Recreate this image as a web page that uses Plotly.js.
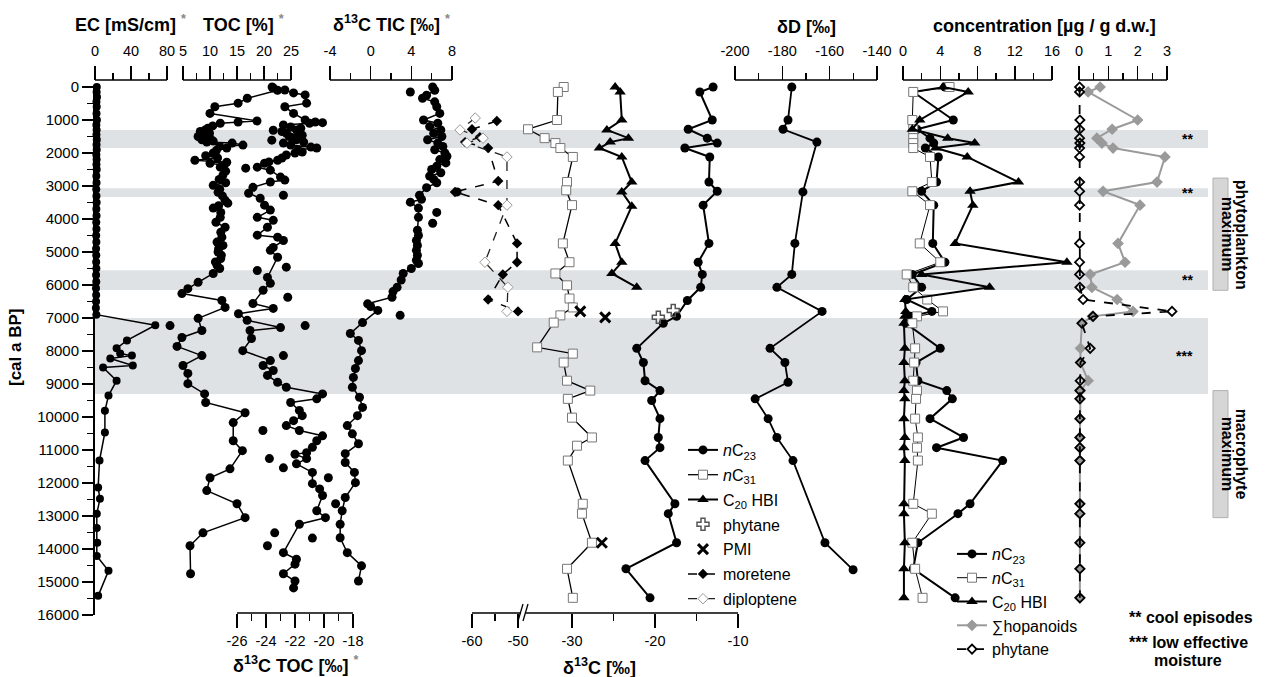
<!DOCTYPE html>
<html><head><meta charset="utf-8">
<script src="https://cdn.plot.ly/plotly-3.0.1.min.js"></script>
<style>html,body{margin:0;padding:0;background:#fff}#chart{width:1265px;height:677px}</style>
</head><body><div id="chart"></div>
<script>
// ---------------- DATA (ages in cal a BP) ----------------
const EC_age = [0,150,300,450,600,800,1000,1150,1300,1450,1600,1750,1900,2050,2200,2350,2500,2700,2900,3100,3300,3500,3700,3900,4100,4300,4500,4700,4900,5100,5300,5500,5700,5900,6100,6300,6500,6700,6900,7220,7680,7920,8075,8140,8230,8440,8500,8900,9350,9810,10470,11320,12140,12480,12930,13360,13810,14210,14660,15420];
const EC_val = [2.0,1.8,2.2,1.6,1.9,1.7,2.1,1.5,1.8,1.6,2.0,1.7,1.9,1.5,1.8,1.6,1.9,1.5,1.7,1.4,1.6,1.8,1.5,1.7,1.4,1.6,1.3,1.5,1.2,1.4,1.3,1.5,1.2,1.4,1.1,1.3,1.2,1.0,1.5,67,35.5,24,28,41,17,42,9,24,15,11,11,5,3.5,5.5,2,2,2.5,2,15,3.5];

const TOC_age = [0,100,340,490,600,800,1030,1060,1100,1180,1250,1300,1350,1400,1460,1500,1550,1600,1640,1670,1700,1760,1800,1850,1920,2000,2080,2150,2220,2280,2310,2370,2430,2550,2670,2800,2900,2980,3100,3190,3300,3430,3520,3600,3670,3800,3950,4100,4250,4400,4550,4700,4800,4900,5000,5100,5200,5300,5400,5500,5650,5920,6110,6260,6470,6680,7010,7380,7590,7860,8140,8440,8680,8990,9300,9560,9870,10170,10720,11020,11570,11840,12230,12630,13050,13510,13900,14750];
const TOC_val = [21.5,22.5,16.9,15.2,10.9,10.0,18.7,15.2,11.9,10.5,9.6,9.1,8.2,9.9,8.7,7.8,10.0,8.5,10.6,9.4,14.1,16.1,11.8,13.1,11.2,10.6,9.2,11.4,7.2,13.1,10.0,12.6,11.9,12.9,12.4,11.7,12.9,10.6,11.8,11.5,12.3,12.8,13.3,11.6,10.6,12.0,11.9,11.1,12.8,12.0,12.2,11.3,12.4,11.6,11.5,12.1,12.0,11.0,11.3,11.8,10.6,7.8,5.9,4.8,12.2,12.8,7.8,8.5,4.8,3.9,8.5,5.0,5.9,5.9,9.0,9.2,16.5,14.3,14.3,16.0,13.7,10.0,9.4,15.0,16.5,8.7,6.3,6.4];
const TOC_out_age = [7230,10410,11260];
const TOC_out_val = [2.6,19.8,21.0];

const D13TOC_age = [30,90,180,240,490,600,800,1000,1060,1100,1150,1210,1250,1300,1350,1400,1460,1500,1550,1600,1670,1700,1760,1820,1850,1900,1970,2000,2060,2150,2220,2270,2310,2430,2520,2730,2820,2880,3040,3220,3370,3580,3730,3950,4040,4250,4490,4550,4650,4860,4950,5160,5770,5950,6160,6560,6710,6870,7070,7290,7380,7620,7990,8290,8440,8590,8740,8950,9100,9300,9450,9560,9800,9960,10110,10260,10410,10570,10720,10920,11080,11130,11260,11420,11680,12020,12180,12380,12840,13050,13250,14110,14310,14460,14750,14970,15180];
const D13TOC_val = [-23.5,-22.7,-22.1,-21.3,-21.2,-22.7,-22.1,-21.3,-20.6,-21.0,-22.8,-22.3,-21.6,-21.9,-22.9,-22.6,-21.5,-22.4,-22.1,-21.9,-21.4,-22.8,-22.3,-20.9,-20.5,-21.8,-21.5,-22.0,-22.6,-22.9,-23.2,-23.8,-24.1,-24.6,-23.7,-23.0,-22.7,-23.7,-24.9,-25.2,-24.4,-24.1,-23.7,-24.6,-23.5,-23.9,-24.6,-23.2,-22.8,-23.5,-23.7,-23.2,-23.9,-23.7,-24.2,-24.9,-23.5,-25.9,-25.3,-23.0,-25.1,-25.0,-25.6,-23.7,-24.2,-23.5,-23.9,-23.2,-22.6,-20.1,-20.5,-22.3,-21.7,-21.5,-22.1,-22.6,-21.7,-20.1,-20.5,-20.8,-21.2,-22.0,-21.2,-21.9,-20.8,-20.8,-20.3,-20.1,-20.5,-19.9,-21.7,-22.8,-21.9,-22.0,-22.8,-22.0,-22.1];
const D13TOC_out_age = [1080,1310,1610,2460,3280,5460,5560,6370,7230,8140,11540,11840,12630,13510,13670,13900];
const D13TOC_out_val = [-20.1,-23.5,-23.6,-25.4,-22.8,-22.6,-24.6,-22.5,-21.3,-22.8,-22.8,-19.7,-19.2,-23.4,-20.8,-23.9];

const TIC_age = [0,100,250,340,450,600,800,1000,1100,1200,1300,1400,1500,1600,1700,1800,1900,2000,2100,2200,2300,2400,2500,2600,2700,2800,2900,3050,3280,3400,3490,3670,3950,4340,4500,4650,4800,4950,5100,5250,5350,5500,5650,5850,6070,6200,6370,6570,6650,6770,7140,7470,7680,7990,8290,8530,8800,9100,9400,9710,9960,10260,10510,10810,11110,11380,11680,11990,12440,12840,13250,13660,14110,14510,14970];
const TIC_val = [6.1,6.3,5.5,5.1,6.3,6.5,6.8,5.2,6.6,5.8,6.9,6.2,7.0,5.6,6.6,7.1,6.3,7.3,7.5,6.8,7.4,6.5,6.0,6.9,5.8,6.2,6.5,5.5,4.8,5.0,3.9,4.7,4.7,4.6,4.7,4.5,4.6,4.5,4.6,4.5,4.7,4.0,3.2,3.0,2.6,2.2,2.1,-0.3,0.0,0.7,-0.8,-2.0,-1.2,-0.9,-1.2,-1.5,-1.7,-1.8,-1.1,-0.8,-1.3,-2.3,-1.8,-1.2,-2.5,-2.5,-1.6,-1.5,-2.5,-2.8,-3.0,-3.0,-2.3,-0.9,-1.2];
const TIC_out_age = [150,3180,3800,4130,6920];
const TIC_out_val = [3.9,8.5,6.5,6.1,2.9];

// compound-specific d13C [permil]
const d13_C23_age = [0,150,1000,1280,1550,1700,1850,2120,2880,3160,3580,4740,5310,5680,6070,6470,6950,7160,7920,8350,8900,9200,9500,10050,10620,10930,11320,12630,12930,13810,14600,15480];
const d13_C23_val = [-13.0,-14.6,-13.1,-16.0,-13.7,-12.5,-16.4,-13.4,-13.5,-12.5,-14.2,-13.5,-14.8,-14.3,-14.5,-16.1,-17.4,-19.0,-22.2,-21.4,-21.2,-19.4,-20.4,-19.4,-19.6,-19.4,-21.2,-17.6,-18.4,-17.4,-23.5,-20.6];
const d13_C31_age = [0,150,1000,1280,1550,1700,1850,2120,2880,3130,3580,4740,5310,5650,6010,6410,6680,6920,7140,7890,8080,8350,8900,9200,9450,10020,10620,10870,11320,12630,12930,13810,14600,15480];
const d13_C31_val = [-31.0,-31.7,-31.8,-35.3,-33.3,-32.0,-31.4,-29.9,-30.6,-30.7,-30.0,-31.1,-30.3,-32.0,-30.6,-30.3,-29.9,-31.4,-32.2,-34.2,-29.9,-31.0,-30.6,-27.8,-30.5,-30.0,-27.6,-29.4,-30.5,-28.7,-28.8,-27.6,-30.6,-29.9];
const d13_HBI_age = [0,150,1000,1300,1550,1670,1850,2120,2880,3180,3610,4740,5310,5650,6070];
const d13_HBI_val = [-24.8,-24.2,-24.0,-25.8,-23.2,-25.4,-26.7,-24.0,-22.8,-24.0,-22.8,-24.8,-24.0,-25.2,-22.2];
const d13_PHY_age = [6770,6980];
const d13_PHY_val = [-17.8,-19.6];
const d13_PMI_age = [6800,6980,13810];
const d13_PMI_val = [-29.0,-26.0,-26.4];
const d13_MOR_age = [1030,1280,1520,1670,1850,2850,3180,3580,4740,5310,5680,6440,6800];
const d13_MOR_val = [-54.6,-60.0,-58.3,-61.5,-56.5,-54.3,-63.7,-54.3,-50.2,-50.2,-53.3,-56.5,-50.0];
const d13_DIP_age = [940,1300,1550,1700,2120,3580,5310,6070,6800];
const d13_DIP_val = [-59.3,-62.6,-57.6,-61.1,-52.4,-52.4,-57.2,-52.2,-52.4];

// dD of nC23 [permil]
const dD_age = [0,1000,1280,1670,3180,4740,5680,6070,6800,7920,8350,8950,9450,10050,10620,11320,13810,14630];
const dD_val = [-176.0,-177.6,-179.7,-165.4,-171.3,-174.7,-176.0,-182.3,-163.2,-185.2,-178.9,-177.6,-191.5,-186.0,-182.3,-175.5,-162.0,-150.1];

// concentrations [ug / g d.w.]
const conc_age = [0,150,1000,1280,1550,1700,1850,2120,2880,3160,3580,4740,5310,5680,6070,6440,6800,6950,7160,7920,8350,8900,9200,9450,10050,10620,10930,11320,12630,12930,13810,14600,15480];
const conc_C23 = [4.5,1.1,5.4,1.5,2.9,3.3,2.4,3.8,3.6,2.0,3.3,3.2,4.5,1.0,2.0,0.4,3.1,0.8,0.3,4.0,1.4,1.6,4.7,5.3,2.9,6.5,3.6,10.7,7.2,5.9,1.6,1.1,5.6];
const conc_C31 = [5.0,1.1,1.0,1.1,1.1,1.1,1.1,2.9,3.1,1.0,2.9,1.8,4.0,0.4,1.1,2.6,4.3,1.5,1.0,1.3,1.2,1.1,1.5,1.4,1.3,1.6,1.5,1.6,1.1,3.1,1.0,1.3,2.1];
const conc_HBI = [4.3,7.0,1.8,1.0,4.8,7.7,3.5,6.9,12.4,7.2,7.5,5.6,17.6,2.0,9.3,0.2,0.3,0.2,0.1,0.2,0.1,0.2,0.1,0.2,0.1,0.2,0.1,0.2,0.1,0.1,0.2,0.1,0.1];
const conc_HOP = [0.72,0.31,2.0,1.13,0.61,0.78,1.16,2.93,2.66,0.82,2.08,1.33,1.57,0.38,0.44,1.3,1.84,0.45,0.1,0.05,0.05,0.31,0.05,0.04,0.04,0.03,0.04,0.03,0.03,0.03,0.03,0.03,0.03];
const conc_PHY = [0.02,0.02,0.03,0.02,0.02,0.03,0.02,0.02,0.02,0.02,0.02,0.02,0.02,0.02,0.03,0.14,3.17,0.48,0.1,0.38,0.05,0.04,0.03,0.03,0.03,0.03,0.03,0.03,0.03,0.03,0.03,0.03,0.03];

// shaded episodes and labelled periods
const band_from = [1300,3070,5550,7000];
const band_to   = [1850,3330,6150,9300];
const band_mark = ['**','**','**','***'];
const period_from = [2760,9200];
const period_to   = [6160,13050];
const period_l1 = ['phytoplankton','macrophyte'];
const period_l2 = ['maximum','maximum'];

const yTicks = [0,1000,2000,3000,4000,5000,6000,7000,8000,9000,10000,11000,12000,13000,14000,15000,16000];
const yMinor = [500,1500,2500,3500,4500,5500,6500,7500,8500,9500,10500,11500,12500,13500,14500,15500];

// ---------------- LAYOUT HELPERS ----------------
const W = 1265, H = 677;
const FONT = 'Liberation Sans, Arial, Helvetica, sans-serif';
const PX = x => x / W;
const PY = y => (H - y) / H;
function mapRange(d0, d1, v0, p0, v1, p1) {
  const s = (p1 - p0) / (v1 - v0);
  return [v0 + (d0 - p0) / s, v0 + (d1 - p0) / s];
}
const shapes = [];
function xAxis(dom, v0, p0, v1, p1, side, ypx, major, minor) {
  return {
    domain: [PX(dom[0]), PX(dom[1])],
    range: mapRange(dom[0], dom[1], v0, p0, v1, p1),
    anchor: 'free', position: PY(ypx), side: side,
    showline: false, showgrid: false, zeroline: false, fixedrange: true,
    tickmode: 'array', tickvals: major, ticktext: major.map(v => String(v)),
    ticks: 'outside', ticklen: 14, tickwidth: 1.5, tickcolor: '#000',
    ticklabelstandoff: side === 'top' ? 4 : 1,
    minor: {tickmode: 'array', tickvals: minor, ticks: 'outside', ticklen: 7, tickwidth: 1.5, tickcolor: '#000', showgrid: false},
    tickfont: {family: FONT, size: 14.5, color: '#000'}
  };
}
const axes = {
  xaxis:  xAxis([86,178], 0,95,80,167, 'top', 80, [0,40,80], [20,60]),
  xaxis2: xAxis([160,300], 5,183,25,291, 'top', 80, [5,10,15,20,25], [7.5,12.5,17.5,22.5]),
  xaxis3: xAxis([226,364], -26,237,-18,353, 'bottom', 613, [-26,-24,-22,-20,-18], [-25,-23,-21,-19]),
  xaxis4: xAxis([322,470], -4,330,8,452, 'top', 80, [-4,0,4,8], [-2,2,6]),
  xaxis5: xAxis([438,524], -60,472,-50,518, 'bottom', 613, [-60,-50], [-55]),
  xaxis6: xAxis([524,762], -30,572,-10,738, 'bottom', 613, [-30,-20,-10], [-25,-15]),
  xaxis7: xAxis([726,886], -200,735,-140,877, 'top', 80, [-200,-180,-160,-140], [-190,-170,-150]),
  xaxis8: xAxis([895,1074], 0,903,16,1052, 'top', 80, [0,4,8,12,16], [2,6,10,14]),
  xaxis9: xAxis([1072,1182], 0,1079,3,1167, 'top', 80, [0,1,2,3], [0.5,1.5,2.5])
};
// axis lines
function axLine(ref, v0, v1, ypx) {
  shapes.push({type: 'line', xref: ref, yref: 'paper', x0: v0, x1: v1, y0: PY(ypx), y1: PY(ypx), line: {color: '#000', width: 1.5}});
}
axLine('x', 0, 80, 80); axLine('x2', 5, 25, 80); axLine('x3', -26, -18, 613); axLine('x4', -4, 8, 80);
axLine('x7', -200, -140, 80); axLine('x8', 0, 16, 80); axLine('x9', 0, 3, 80);
// broken d13C axis: left and right pieces plus break mark
shapes.push({type: 'line', xref: 'paper', yref: 'paper', x0: PX(472), x1: PX(521), y0: PY(613), y1: PY(613), line: {color: '#000', width: 1.5}});
shapes.push({type: 'line', xref: 'paper', yref: 'paper', x0: PX(526), x1: PX(738), y0: PY(613), y1: PY(613), line: {color: '#000', width: 1.5}});
shapes.push({type: 'line', xref: 'paper', yref: 'paper', x0: PX(518), x1: PX(523), y0: PY(621), y1: PY(604), line: {color: '#000', width: 1.3}});
shapes.push({type: 'line', xref: 'paper', yref: 'paper', x0: PX(523), x1: PX(528), y0: PY(621), y1: PY(604), line: {color: '#000', width: 1.3}});
// shaded bands
band_from.forEach((b, i) => {
  shapes.push({type: 'rect', layer: 'below', xref: 'paper', yref: 'y', x0: PX(95), x1: PX(1208), y0: b, y1: band_to[i], fillcolor: '#dfe2e5', line: {width: 0}});
});
// period boxes
period_from.forEach((b, i) => {
  shapes.push({type: 'rect', layer: 'below', xref: 'paper', yref: 'y', x0: PX(1213), x1: PX(1228), y0: b, y1: period_to[i], fillcolor: '#d6d6d6', line: {color: '#b0b0b0', width: 1}});
});

// ---------------- TRACES ----------------
const traces = [];
function tr(o) { traces.push(Object.assign({type: 'scatter', yaxis: 'y', showlegend: false, cliponaxis: false}, o)); }
const blackDot = s => ({symbol: 'circle', size: s, color: '#000'});

tr({x: EC_val, y: EC_age, xaxis: 'x', mode: 'lines+markers', line: {color: '#000', width: 1.5}, marker: blackDot(8)});
tr({x: TOC_val, y: TOC_age, xaxis: 'x2', mode: 'lines+markers', line: {color: '#000', width: 1.5}, marker: blackDot(9)});
tr({x: TOC_out_val, y: TOC_out_age, xaxis: 'x2', mode: 'markers', marker: blackDot(9)});
tr({x: D13TOC_val, y: D13TOC_age, xaxis: 'x3', mode: 'lines+markers', line: {color: '#000', width: 1.5}, marker: blackDot(9)});
tr({x: D13TOC_out_val, y: D13TOC_out_age, xaxis: 'x3', mode: 'markers', marker: blackDot(9)});
tr({x: TIC_val, y: TIC_age, xaxis: 'x4', mode: 'lines+markers', line: {color: '#000', width: 1.5}, marker: blackDot(9)});
tr({x: TIC_out_val, y: TIC_out_age, xaxis: 'x4', mode: 'markers', marker: blackDot(9)});

// d13C panel (legend 1)
const L1 = {legend: 'legend', showlegend: true};
tr(Object.assign({name: '<i>n</i>C<sub>23</sub>', legendgroup: 'a1', x: d13_C23_val, y: d13_C23_age, xaxis: 'x6', mode: 'lines+markers', line: {color: '#000', width: 2}, marker: blackDot(9)}, L1));
tr(Object.assign({name: '<i>n</i>C<sub>31</sub>', legendgroup: 'a2', x: d13_C31_val, y: d13_C31_age, xaxis: 'x6', mode: 'lines+markers', line: {color: '#000', width: 1.3}, marker: {symbol: 'square', size: 9, color: '#fff', line: {color: '#777', width: 1}}}, L1));
tr(Object.assign({name: 'C<sub>20</sub> HBI', legendgroup: 'a3', x: d13_HBI_val, y: d13_HBI_age, xaxis: 'x6', mode: 'lines+markers', line: {color: '#000', width: 2}, marker: {symbol: 'triangle-up', size: 10, color: '#000'}}, L1));
tr(Object.assign({name: 'phytane', legendgroup: 'a4', x: d13_PHY_val, y: d13_PHY_age, xaxis: 'x6', mode: 'markers', marker: {symbol: 'cross-open', size: 10, color: '#555', line: {width: 1.5}}}, L1));
tr(Object.assign({name: 'PMI', legendgroup: 'a5', x: d13_PMI_val, y: d13_PMI_age, xaxis: 'x6', mode: 'markers', marker: {symbol: 'x-thin-open', size: 10, color: '#000', line: {width: 3}}}, L1));
tr(Object.assign({name: 'moretene', legendgroup: 'a6', x: d13_MOR_val, y: d13_MOR_age, xaxis: 'x5', mode: 'lines+markers', line: {color: '#000', width: 1.5, dash: 'dash'}, marker: {symbol: 'diamond', size: 8, color: '#000'}}, L1));
tr(Object.assign({name: 'diploptene', legendgroup: 'a7', x: d13_DIP_val, y: d13_DIP_age, xaxis: 'x5', mode: 'lines+markers', line: {color: '#222', width: 1.3, dash: 'dash'}, marker: {symbol: 'diamond', size: 8, color: '#fff', line: {color: '#999', width: 1}}}, L1));

// dD
tr({x: dD_val, y: dD_age, xaxis: 'x7', mode: 'lines+markers', line: {color: '#000', width: 1.8}, marker: blackDot(9)});

// concentrations (legend 2)
const L2 = {legend: 'legend2', showlegend: true};
tr(Object.assign({name: '<i>n</i>C<sub>23</sub>', legendgroup: 'b1', x: conc_C23, y: conc_age, xaxis: 'x8', mode: 'lines+markers', line: {color: '#000', width: 2}, marker: blackDot(9)}, L2));
tr(Object.assign({name: '<i>n</i>C<sub>31</sub>', legendgroup: 'b2', x: conc_C31, y: conc_age, xaxis: 'x8', mode: 'lines+markers', line: {color: '#000', width: 1}, marker: {symbol: 'square', size: 9, color: '#fff', line: {color: '#777', width: 1}}}, L2));
tr(Object.assign({name: 'C<sub>20</sub> HBI', legendgroup: 'b3', x: conc_HBI, y: conc_age, xaxis: 'x8', mode: 'lines+markers', line: {color: '#000', width: 2}, marker: {symbol: 'triangle-up', size: 10, color: '#000'}}, L2));
tr(Object.assign({name: '∑hopanoids', legendgroup: 'b4', x: conc_HOP, y: conc_age, xaxis: 'x9', mode: 'lines+markers', line: {color: '#9a9a9a', width: 2}, marker: {symbol: 'diamond', size: 9, color: '#9a9a9a'}}, L2));
tr(Object.assign({name: 'phytane', legendgroup: 'b5', x: conc_PHY, y: conc_age, xaxis: 'x9', mode: 'lines+markers', line: {color: '#000', width: 1.8, dash: 'dash'}, marker: {symbol: 'diamond-open', size: 7, color: '#000', line: {width: 1.8}}}, L2));

// ---------------- ANNOTATIONS ----------------
const ann = [];
function txt(text, xpx, ypx, size, bold, extra) {
  ann.push(Object.assign({text: bold ? '<b>' + text + '</b>' : text, xref: 'paper', yref: 'paper', x: PX(xpx), y: PY(ypx), showarrow: false,
    xanchor: 'center', yanchor: 'middle', font: {family: FONT, size: size, color: '#000'}}, extra || {}));
}
const star = ' <span style="color:#888"><sup>*</sup></span>';
txt('EC [mS/cm]' + star, 130, 23, 18, true);
txt('TOC [%]' + star, 243, 23, 18, true);
txt('δ<sup>13</sup>C TIC [‰]' + star, 391, 23, 18, true);
txt('δD [‰]', 806, 27, 18, true);
txt('concentration [µg / g d.w.]', 1044, 26, 18, true);
txt('δ<sup>13</sup>C TOC [‰]' + star, 296, 664, 18, true);
txt('δ<sup>13</sup>C [‰]', 599, 666, 18, true);
txt('[cal a BP]', 15, 348, 17, true, {textangle: -90});
band_from.forEach((b, i) => {
  ann.push({text: '<b>' + band_mark[i] + '</b>', xref: 'paper', yref: 'y', x: PX(1195), y: (b + band_to[i]) / 2, showarrow: false, font: {family: FONT, size: 14, color: '#000'}});
});
period_from.forEach((b, i) => {
  const mid = (b + period_to[i]) / 2;
  ann.push({text: '<b>' + period_l1[i] + '</b>', xref: 'paper', yref: 'y', x: PX(1252), y: mid, showarrow: false, textangle: 90, font: {family: FONT, size: 16, color: '#000'}});
  ann.push({text: '<b>' + period_l2[i] + '</b>', xref: 'paper', yref: 'y', x: PX(1238), y: mid, showarrow: false, textangle: 90, font: {family: FONT, size: 16, color: '#000'}});
});
txt('** cool episodes', 1127, 617, 16, true, {xanchor: 'left'});
txt('*** low effective', 1127, 642, 16, true, {xanchor: 'left'});
txt('moisture', 1188, 660, 16, true);

const layout = Object.assign({
  width: W, height: H,
  margin: {l: 0, r: 0, t: 0, b: 0},
  paper_bgcolor: '#fff', plot_bgcolor: 'rgba(0,0,0,0)',
  font: {family: FONT, color: '#000'},
  showlegend: true,
  legend: {x: PX(683), y: PY(433), xanchor: 'left', yanchor: 'top', bgcolor: 'rgba(0,0,0,0)', font: {family: FONT, size: 16, color: '#000'}, tracegroupgap: 1, itemwidth: 30, traceorder: 'grouped'},
  legend2: {x: PX(952), y: PY(537), xanchor: 'left', yanchor: 'top', bgcolor: 'rgba(0,0,0,0)', font: {family: FONT, size: 16, color: '#000'}, tracegroupgap: 0, itemwidth: 30, traceorder: 'grouped'},
  yaxis: {
    domain: [PY(615), PY(87)], range: [16000, 0], anchor: 'free', position: PX(93), side: 'left',
    showline: true, linewidth: 1.5, linecolor: '#000', showgrid: false, zeroline: false, fixedrange: true,
    tickmode: 'array', tickvals: yTicks, ticktext: yTicks.map(String),
    ticks: 'outside', ticklen: 11, tickwidth: 1.5, tickcolor: '#000',
    minor: {tickmode: 'array', tickvals: yMinor, ticks: 'outside', ticklen: 6, tickwidth: 1.5, tickcolor: '#000', showgrid: false},
    tickfont: {family: FONT, size: 15, color: '#000'}
  },
  shapes: shapes,
  annotations: ann
}, axes);

Plotly.newPlot('chart', traces, layout, {staticPlot: true, displayModeBar: false});
</script>
</body></html>
